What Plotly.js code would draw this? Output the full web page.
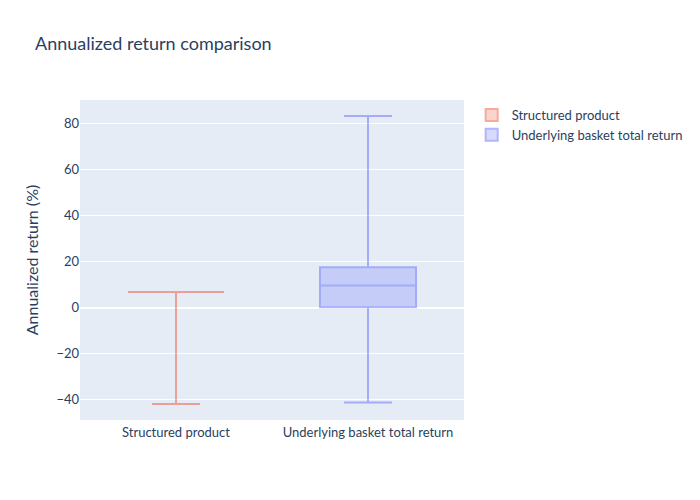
<!DOCTYPE html>
<html>
<head>
<meta charset="utf-8">
<script src="https://cdn.plot.ly/plotly-3.0.1.min.js"></script>
<style>body{margin:0}#chart{width:700px;height:500px}</style>
</head>
<body>
<div id="chart"></div>
<script>
// Annualized return box plot — precomputed quartiles per product.
const names = ["Structured product", "Underlying basket total return"];
const colors = ["#EF553B", "#636efa"];
const lowerFence = [-41.9, -41.2];
const q1 = [6.8, 0.2];
const median = [6.8, 9.6];
const q3 = [6.8, 17.5];
const upperFence = [6.8, 83.3];

const traces = names.map((n, i) => ({
  type: "box",
  name: n,
  x: [n],
  lowerfence: [lowerFence[i]],
  q1: [q1[i]],
  median: [median[i]],
  q3: [q3[i]],
  upperfence: [upperFence[i]],
  marker: { color: colors[i] },
  opacity: 0.5,
  width: 0.5,
  boxpoints: false,
}));

Plotly.newPlot("chart", traces, {
  width: 700, height: 500,
  font: { family: "Lato, 'Noto Sans', sans-serif", size: 13, color: "#2a3f5f" },
  title: { text: "Annualized return comparison", x: 0.05 },
  paper_bgcolor: "white",
  plot_bgcolor: "#E5ECF6",
  xaxis: { showgrid: false, linecolor: "white", ticks: "", range: [-0.5, 1.5] },
  yaxis: {
    title: { text: "Annualized return (%)" },
    gridcolor: "white", zerolinecolor: "white", zerolinewidth: 2,
  },
  legend: { x: 1.02, y: 1 },
}, { displayModeBar: false });
</script>
</body>
</html>
